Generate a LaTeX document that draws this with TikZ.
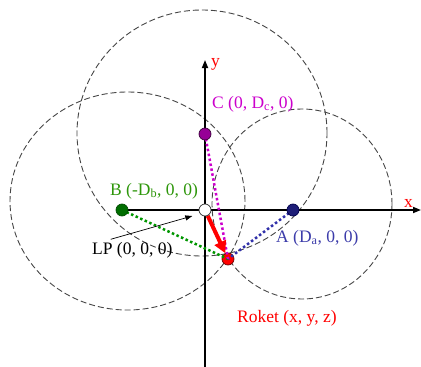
\documentclass[tikz,border=0pt]{standalone}
\usepackage{fontspec}
\setmainfont{Liberation Serif}
\usetikzlibrary{arrows.meta}
\definecolor{circgray}{RGB}{70,70,70}
\definecolor{btext}{RGB}{45,150,10}
\definecolor{bfill}{RGB}{0,110,0}
\definecolor{bline}{RGB}{0,150,0}
\definecolor{afill}{RGB}{30,30,120}
\definecolor{atext}{RGB}{60,60,170}
\definecolor{aline}{RGB}{50,50,170}
\definecolor{cfill}{RGB}{150,0,150}
\definecolor{ctext}{RGB}{204,0,204}
\definecolor{rdark}{RGB}{110,0,0}
\begin{document}
\begin{tikzpicture}[x=1pt,y=-1pt,
  rangecirc/.style={draw=circgray,line width=0.9pt,dash pattern=on 6pt off 3pt},
  axis/.style={draw=black,line width=1.6pt,-{Triangle[length=8pt,width=6pt]}},
  dotline/.style={line width=2.5pt,dash pattern=on 2.5pt off 2.5pt},
  pt/.style={circle,minimum size=12pt,inner sep=0pt,line width=0.7pt},
  lbl/.style={font=\fontsize{17.5}{20}\selectfont,inner sep=0pt,anchor=base west},
  axlbl/.style={font=\fontsize{17.5}{20}\selectfont,inner sep=0pt,anchor=base west,text=red}]
\useasboundingbox (0,0) rectangle (421,367);
\fill[white] (0,0) rectangle (421,367);
% range circles
\draw[rangecirc] (127.5,201) ellipse [x radius=117.5pt, y radius=109pt];
\draw[rangecirc] (302,204) ellipse [x radius=90pt, y radius=95pt];
\draw[rangecirc] (202,133) ellipse [x radius=125pt, y radius=123pt];
% coordinates
\coordinate (xend) at (421,210);
\coordinate (yend) at (205,60);
\coordinate (ybot) at (205,367);
\coordinate (lptail) at (110.7,239.3);
% point nodes (positions)
\node[pt] (b) at (122,210) {};
\node[pt] (lp) at (205,210) {};
\node[pt] (a) at (293,210) {};
\node[pt] (c) at (205,134) {};
\node[pt] (rk) at (228,259) {};
% axes
\draw[axis] (ybot) -- (yend);
\draw[axis] (b.center) -- (xend);
% rocket dot
\node[pt,fill=red,draw=rdark] at (rk) {};
% dotted distances
\draw[dotline,bline] (b.center) -- (rk.center);
\draw[dotline,aline] (a.center) -- (rk.center);
\draw[dotline,ctext] (c.center) -- (rk.center);
% red arrow
\draw[red,line width=4pt,-{Triangle[length=12pt,width=12pt]}] (lp) -- (rk);
% label arrow
\draw[black,line width=0.7pt,-{Triangle[length=7pt,width=5pt]}] (lptail) -- (192.3,216);
% dots on top
\node[pt,fill=bfill,draw=black!70!green] at (b) {};
\node[pt,fill=white,draw=black!80] at (lp) {};
\node[pt,fill=afill,draw=black!70!blue] at (a) {};
\node[pt,fill=cfill,draw=black!60!cfill] at (c) {};
% labels
\node[axlbl] (ylbl) at (211,66) {y};
\node[axlbl] (xlbl) at (404,207) {x};
\node[lbl,text=ctext] (clbl) at (212,108) {C (0, D\textsubscript{c}, 0)};
\node[lbl,text=btext] (blbl) at (110,195) {B (-D\textsubscript{b}, 0, 0)};
\node[lbl,text=black] (lplbl) at (92,254.5) {LP (0, 0, 0)};
\node[lbl,text=atext] (albl) at (276,242) {A (D\textsubscript{a}, 0, 0)};
\node[lbl,text=red] (rklbl) at (237,322) {Roket (x, y, z)};
\end{tikzpicture}
\end{document}
